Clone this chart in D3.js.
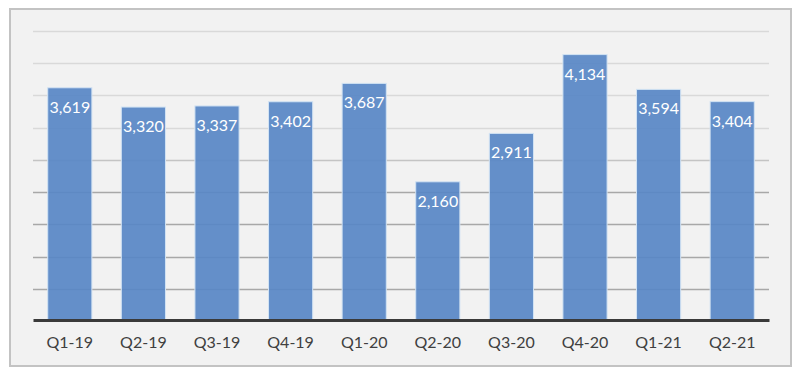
<!DOCTYPE html>
<html>
<head>
<meta charset="utf-8">
<script src="https://cdn.jsdelivr.net/npm/d3@7"></script>
<style>
  body { margin: 0; background: #fff; }
  svg { display: block; }
  .bar-label { font-family: Lato, "Open Sans", sans-serif; font-size: 16px; fill: #fff; }
  .x-axis text { font-family: Lato, "Open Sans", sans-serif; font-size: 16px; fill: #404040; }
</style>
</head>
<body>
<div id="svg-container"></div>
<script>
// data
const quarters = ["Q1-19", "Q2-19", "Q3-19", "Q4-19", "Q1-20", "Q2-20", "Q3-20", "Q4-20", "Q1-21", "Q2-21"];
const values = [3619, 3320, 3337, 3402, 3687, 2160, 2911, 4134, 3594, 3404];
const gridValues = [500, 1000, 1500, 2000, 2500, 3000, 3500, 4000, 4500];

const width = 806;
const height = 379;
const margin = { top: 31, right: 37, bottom: 58, left: 33 };

const svg = d3.select("#svg-container").append("svg")
  .attr("width", width)
  .attr("height", height);

// frame
svg.append("rect")
  .attr("x", 10)
  .attr("y", 9)
  .attr("width", 781)
  .attr("height", 357)
  .attr("fill", "#f2f2f2")
  .attr("stroke", "#c3c3c3")
  .attr("stroke-width", 2);

// scales
const xScale = d3.scaleBand()
  .domain(quarters)
  .range([margin.left, width - margin.right])
  .paddingInner(0.4)
  .paddingOuter(0.2);

const yScale = d3.scaleLinear()
  .domain([0, 4500])
  .range([height - margin.bottom, margin.top]);

// gridlines
svg.selectAll(".grid")
  .data(gridValues)
  .enter()
  .append("line")
  .attr("class", "grid")
  .attr("x1", margin.left)
  .attr("x2", width - margin.right)
  .attr("y1", (d) => Math.round(yScale(d)) + 0.5)
  .attr("y2", (d) => Math.round(yScale(d)) + 0.5)
  .attr("stroke", (d) => (d <= 2000 ? "#a8a8a8" : d <= 2500 ? "#c4c4c4" : "#d9d9d9"))
  .attr("stroke-width", 1.5);

// bars
svg.selectAll(".bar")
  .data(values)
  .enter()
  .append("rect")
  .attr("class", "bar")
  .attr("x", (d, i) => xScale(quarters[i]))
  .attr("y", (d) => yScale(d))
  .attr("width", xScale.bandwidth())
  .attr("height", (d) => yScale(0) - yScale(d))
  .attr("fill", "#5887c5")
  .attr("fill-opacity", 0.92)
  .attr("stroke", "#d2e3f3")
  .attr("stroke-width", 1);

// value labels
svg.selectAll(".bar-label")
  .data(values)
  .enter()
  .append("text")
  .attr("class", "bar-label")
  .attr("x", (d, i) => xScale(quarters[i]) + xScale.bandwidth() / 2)
  .attr("y", (d) => yScale(d) + 25)
  .attr("text-anchor", "middle")
  .text((d) => d3.format(",")(d));

// x axis
const xAxis = d3.axisBottom(xScale).tickSize(0).tickPadding(17);

const gx = svg.append("g")
  .attr("class", "x-axis")
  .attr("transform", `translate(0, ${height - margin.bottom - 1})`)
  .call(xAxis);

gx.select(".domain")
  .attr("stroke", "#3a3a3a")
  .attr("stroke-width", 3);
</script>
</body>
</html>
